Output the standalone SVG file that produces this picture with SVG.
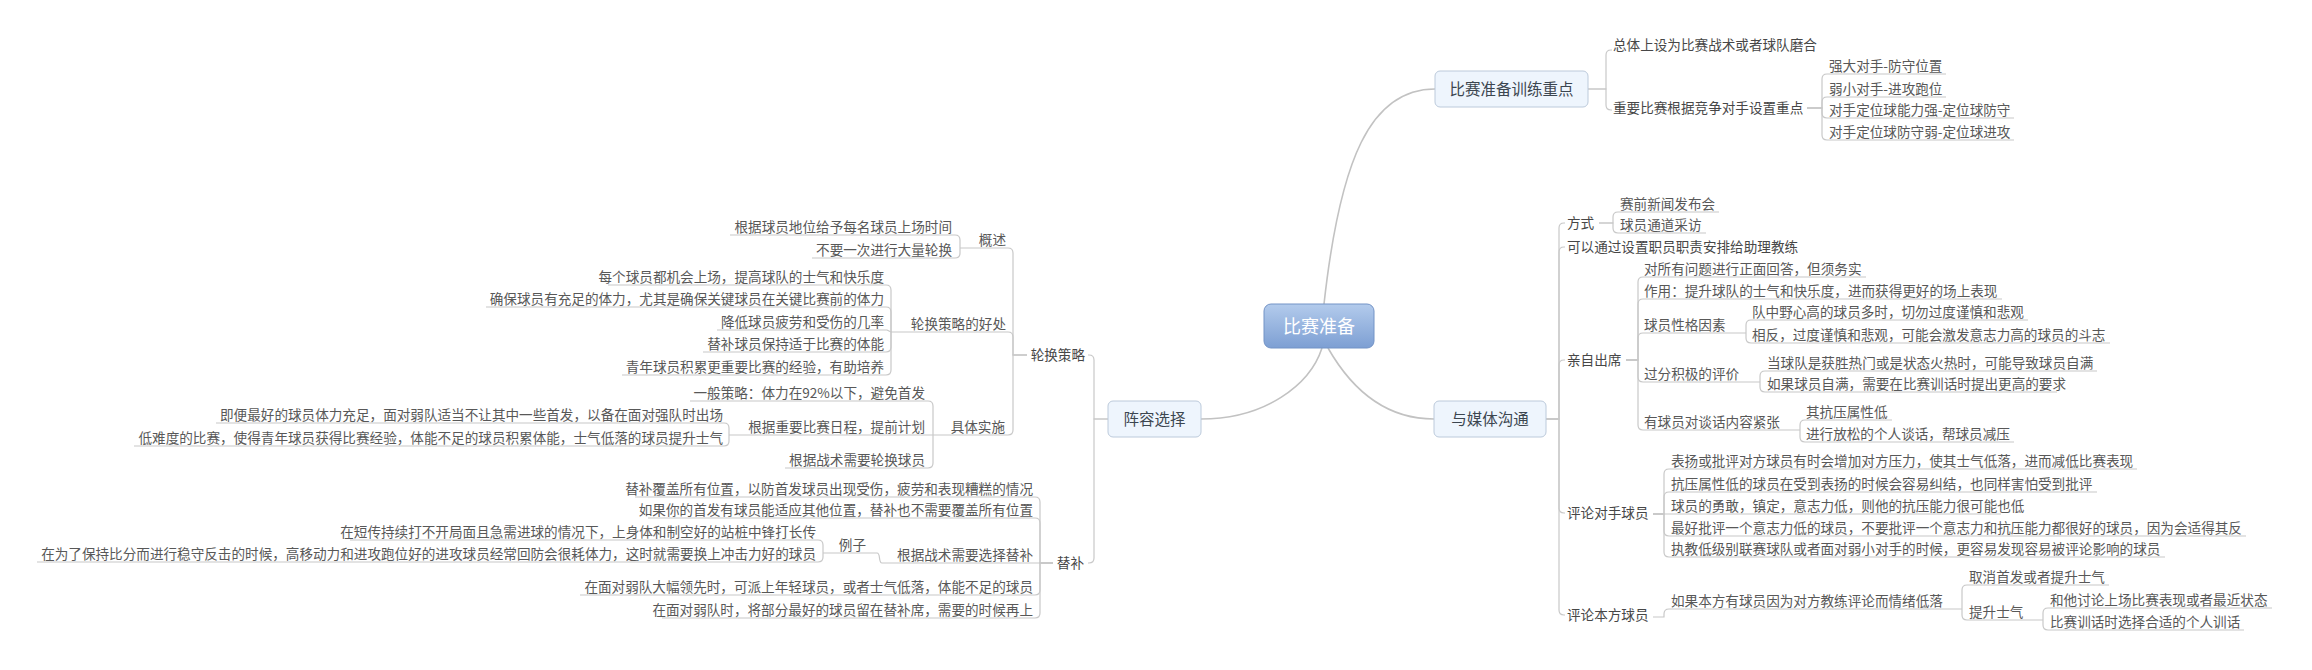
<svg xmlns="http://www.w3.org/2000/svg" width="2312" height="670" viewBox="0 0 2312 670">
<defs>
<linearGradient id="rootGrad" x1="0" y1="0" x2="0" y2="1">
<stop offset="0" stop-color="#b3cbec"/>
<stop offset="1" stop-color="#7d9fd3"/>
</linearGradient>
<style>
.t{font-family:"Noto Sans CJK SC","Liberation Sans",sans-serif;font-size:13.6px;fill:#585858}
.l2{fill:#474747}
.e{text-anchor:end}
.box{fill:#eef5fd;stroke:#bccadb;stroke-width:1}
.bt{font-family:"Noto Sans CJK SC","Liberation Sans",sans-serif;font-size:15.5px;fill:#3c4650;text-anchor:middle}
.root{fill:url(#rootGrad);stroke:#7393c6;stroke-width:1}
.rt{font-family:"Noto Sans CJK SC","Liberation Sans",sans-serif;font-size:18px;fill:#ffffff;text-anchor:middle}
.c{fill:none;stroke:#c8c8c8;stroke-width:1.2}
.m{fill:none;stroke:#c2c2c2;stroke-width:1.6}
</style>
</defs>
<rect width="2312" height="670" fill="#ffffff"/>

<g id="connectors">
<path class="m" d="M1324,304 C1340,160 1370,89 1435,89"/>
<path class="m" d="M1322,348 C1310,385 1265,419 1201,419"/>
<path class="m" d="M1328,348 C1352,390 1385,419 1434,419"/>

<path class="c" d="M1588,89 H1606 V55 Q1606,50 1611,50 H1612"/>
<path class="c" d="M1588,89 H1606 V105 Q1606,110 1611,110 H1612"/>
<path class="c" d="M1807,108 H1822 V79 Q1822,74 1827,74 H1946"/>
<path class="c" d="M1807,108 H1822 V102 Q1822,97 1827,97 H1946"/>
<path class="c" d="M1807,108 H1822 V113 Q1822,118 1827,118 H2014"/>
<path class="c" d="M1807,108 H1822 V135 Q1822,140 1827,140 H2014"/>

<path class="c" d="M1546,419 H1559 V228 Q1559,223 1564,223 H1565"/>
<path class="c" d="M1546,419 H1559 V252 Q1559,247 1564,247 H1565"/>
<path class="c" d="M1546,419 H1559 V365 Q1559,360 1564,360 H1565"/>
<path class="c" d="M1546,419 H1559 V508 Q1559,513 1564,513 H1565"/>
<path class="c" d="M1546,419 H1559 V610 Q1559,615 1564,615 H1565"/>

<path class="c" d="M1599,223 H1613 V217 Q1613,212 1618,212 H1719"/>
<path class="c" d="M1599,223 H1613 V228 Q1613,233 1618,233 H1706"/>

<path class="c" d="M1626,360 H1638 V282 Q1638,277 1643,277 H1866"/>
<path class="c" d="M1626,360 H1638 V304 Q1638,299 1643,299 H2002"/>
<path class="c" d="M1626,360 H1638 V338 Q1638,333 1643,333 H1746"/>
<path class="c" d="M1626,360 H1638 V377 Q1638,382 1643,382 H1760"/>
<path class="c" d="M1626,360 H1638 V425 Q1638,430 1643,430 H1800"/>
<path class="c" d="M1746,333 V325 Q1746,320 1751,320 H2028"/>
<path class="c" d="M1746,333 V338 Q1746,343 1751,343 H2110"/>
<path class="c" d="M1760,382 V376 Q1760,371 1765,371 H2097"/>
<path class="c" d="M1760,382 V387 Q1760,392 1765,392 H2057"/>
<path class="c" d="M1800,430 V425 Q1800,420 1805,420 H1892"/>
<path class="c" d="M1800,430 V437 Q1800,442 1805,442 H2014"/>

<path class="c" d="M1653,514 H1664 V474 Q1664,469 1669,469 H2137"/>
<path class="c" d="M1653,514 H1664 V497 Q1664,492 1669,492 H2097"/>
<path class="c" d="M1653,514 H2001"/>
<path class="c" d="M1653,514 H1664 V531 Q1664,536 1669,536 H2246"/>
<path class="c" d="M1653,514 H1664 V552 Q1664,557 1669,557 H2165"/>

<path class="c" d="M1653,617 H1664 V614 Q1664,609 1669,609 H1962"/>
<path class="c" d="M1962,609 V590 Q1962,585 1967,585 H2109"/>
<path class="c" d="M1962,609 V615 Q1962,620 1967,620 H2043"/>
<path class="c" d="M2043,620 V613 Q2043,608 2048,608 H2272"/>
<path class="c" d="M2043,620 V625 Q2043,630 2048,630 H2244"/>

<path class="c" d="M1108,419 H1094 V360 Q1094,355 1089,355 H1088"/>
<path class="c" d="M1108,419 H1094 V558 Q1094,563 1089,563 H1088"/>

<path class="c" d="M1027,355 H1013 V253 Q1013,248 1008,248 H960"/>
<path class="c" d="M1027,355 H1013 V337 Q1013,332 1008,332 H891"/>
<path class="c" d="M1027,355 H1013 V430 Q1013,435 1008,435 H933"/>
<path class="c" d="M960,248 V240 Q960,235 955,235 H730"/>
<path class="c" d="M960,248 V253 Q960,258 955,258 H812"/>
<path class="c" d="M891,332 V290 Q891,285 886,285 H608"/>
<path class="c" d="M891,332 V312 Q891,307 886,307 H486"/>
<path class="c" d="M891,332 L887,330 H717"/>
<path class="c" d="M891,332 V347 Q891,352 886,352 H703"/>
<path class="c" d="M891,332 V370 Q891,375 886,375 H622"/>
<path class="c" d="M933,435 V406 Q933,401 928,401 H690"/>
<path class="c" d="M933,435 H729"/>
<path class="c" d="M933,435 V463 Q933,468 928,468 H785"/>
<path class="c" d="M729,435 V428 Q729,423 724,423 H216"/>
<path class="c" d="M729,435 V441 Q729,446 724,446 H134"/>

<path class="c" d="M1053,563 H1040 V502 Q1040,497 1035,497 H635"/>
<path class="c" d="M1053,563 H1040 V523 Q1040,518 1035,518 H648"/>
<path class="c" d="M1053,563 H882"/>
<path class="c" d="M1053,563 H1040 V590 Q1040,595 1035,595 H580"/>
<path class="c" d="M1053,563 H1040 V613 Q1040,618 1035,618 H662"/>
<path class="c" d="M882,563 C878,563 881,553 877,553 H823"/>
<path class="c" d="M823,553 V545 Q823,540 818,540 H350"/>
<path class="c" d="M823,553 V557 Q823,562 818,562 H37"/>
</g>

<g id="root-node">
<rect class="root" x="1264" y="304" width="110" height="44" rx="7"/>
<text class="rt" x="1319" y="332.5">比赛准备</text>
</g>

<g id="n-xunlian">
<rect class="box" x="1435" y="71" width="153" height="36" rx="5"/>
<text class="bt" x="1511.5" y="94.5">比赛准备训练重点</text>
</g>
<g id="n-xunlian-1"><text class="t l2" x="1613" y="50">总体上设为比赛战术或者球队磨合</text></g>
<g id="n-xunlian-2"><text class="t l2" x="1613" y="113">重要比赛根据竞争对手设置重点</text></g>
<g id="n-xunlian-2-1"><text class="t" x="1829" y="71">强大对手-防守位置</text></g>
<g id="n-xunlian-2-2"><text class="t" x="1829" y="94">弱小对手-进攻跑位</text></g>
<g id="n-xunlian-2-3"><text class="t" x="1829" y="115">对手定位球能力强-定位球防守</text></g>
<g id="n-xunlian-2-4"><text class="t" x="1829" y="137">对手定位球防守弱-定位球进攻</text></g>

<g id="n-meiti">
<rect class="box" x="1434" y="401" width="112" height="36" rx="5"/>
<text class="bt" x="1490" y="424.5">与媒体沟通</text>
</g>
<g id="n-fangshi"><text class="t l2" x="1567" y="228">方式</text></g>
<g id="n-fangshi-1"><text class="t" x="1620" y="209">赛前新闻发布会</text></g>
<g id="n-fangshi-2"><text class="t" x="1620" y="230">球员通道采访</text></g>
<g id="n-zhiyuan"><text class="t l2" x="1567" y="252">可以通过设置职员职责安排给助理教练</text></g>
<g id="n-chuxi"><text class="t l2" x="1567" y="365">亲自出席</text></g>
<g id="n-chuxi-1"><text class="t" x="1644" y="274">对所有问题进行正面回答，但须务实</text></g>
<g id="n-chuxi-2"><text class="t" x="1644" y="296">作用：提升球队的士气和快乐度，进而获得更好的场上表现</text></g>
<g id="n-chuxi-3"><text class="t" x="1644" y="330">球员性格因素</text></g>
<g id="n-chuxi-3-1"><text class="t" x="1752" y="317">队中野心高的球员多时，切勿过度谨慎和悲观</text></g>
<g id="n-chuxi-3-2"><text class="t" x="1752" y="340">相反，过度谨慎和悲观，可能会激发意志力高的球员的斗志</text></g>
<g id="n-chuxi-4"><text class="t" x="1644" y="379">过分积极的评价</text></g>
<g id="n-chuxi-4-1"><text class="t" x="1767" y="368">当球队是获胜热门或是状态火热时，可能导致球员自满</text></g>
<g id="n-chuxi-4-2"><text class="t" x="1767" y="389">如果球员自满，需要在比赛训话时提出更高的要求</text></g>
<g id="n-chuxi-5"><text class="t" x="1644" y="427">有球员对谈话内容紧张</text></g>
<g id="n-chuxi-5-1"><text class="t" x="1806" y="417">其抗压属性低</text></g>
<g id="n-chuxi-5-2"><text class="t" x="1806" y="439">进行放松的个人谈话，帮球员减压</text></g>
<g id="n-duishou"><text class="t l2" x="1567" y="518">评论对手球员</text></g>
<g id="n-duishou-1"><text class="t" x="1671" y="466">表扬或批评对方球员有时会增加对方压力，使其士气低落，进而减低比赛表现</text></g>
<g id="n-duishou-2"><text class="t" x="1671" y="489">抗压属性低的球员在受到表扬的时候会容易纠结，也同样害怕受到批评</text></g>
<g id="n-duishou-3"><text class="t" x="1671" y="511">球员的勇敢，镇定，意志力低，则他的抗压能力很可能也低</text></g>
<g id="n-duishou-4"><text class="t" x="1671" y="533">最好批评一个意志力低的球员，不要批评一个意志力和抗压能力都很好的球员，因为会适得其反</text></g>
<g id="n-duishou-5"><text class="t" x="1671" y="554">执教低级别联赛球队或者面对弱小对手的时候，更容易发现容易被评论影响的球员</text></g>
<g id="n-benfang"><text class="t l2" x="1567" y="620">评论本方球员</text></g>
<g id="n-benfang-1"><text class="t" x="1671" y="606">如果本方有球员因为对方教练评论而情绪低落</text></g>
<g id="n-benfang-1-1"><text class="t" x="1969" y="582">取消首发或者提升士气</text></g>
<g id="n-benfang-1-2"><text class="t" x="1969" y="617">提升士气</text></g>
<g id="n-benfang-1-2-1"><text class="t" x="2050" y="605">和他讨论上场比赛表现或者最近状态</text></g>
<g id="n-benfang-1-2-2"><text class="t" x="2050" y="627">比赛训话时选择合适的个人训话</text></g>

<g id="n-zhenrong">
<rect class="box" x="1108" y="401" width="93" height="36" rx="5"/>
<text class="bt" x="1154.5" y="424.5">阵容选择</text>
</g>
<g id="n-lunhuan"><text class="t l2 e" x="1085" y="360">轮换策略</text></g>
<g id="n-gaishu"><text class="t e" x="1006" y="245">概述</text></g>
<g id="n-gaishu-1"><text class="t e" x="952" y="232">根据球员地位给予每名球员上场时间</text></g>
<g id="n-gaishu-2"><text class="t e" x="952" y="255">不要一次进行大量轮换</text></g>
<g id="n-haochu"><text class="t e" x="1006" y="329">轮换策略的好处</text></g>
<g id="n-haochu-1"><text class="t e" x="884" y="282">每个球员都机会上场，提高球队的士气和快乐度</text></g>
<g id="n-haochu-2"><text class="t e" x="884" y="304">确保球员有充足的体力，尤其是确保关键球员在关键比赛前的体力</text></g>
<g id="n-haochu-3"><text class="t e" x="884" y="327">降低球员疲劳和受伤的几率</text></g>
<g id="n-haochu-4"><text class="t e" x="884" y="349">替补球员保持适于比赛的体能</text></g>
<g id="n-haochu-5"><text class="t e" x="884" y="372">青年球员积累更重要比赛的经验，有助培养</text></g>
<g id="n-shishi"><text class="t e" x="1005" y="432">具体实施</text></g>
<g id="n-shishi-1"><text class="t e" x="925" y="398">一般策略：体力在92%以下，避免首发</text></g>
<g id="n-shishi-2"><text class="t e" x="925" y="432">根据重要比赛日程，提前计划</text></g>
<g id="n-shishi-2-1"><text class="t e" x="723" y="420">即便最好的球员体力充足，面对弱队适当不让其中一些首发，以备在面对强队时出场</text></g>
<g id="n-shishi-2-2"><text class="t e" x="723" y="443">低难度的比赛，使得青年球员获得比赛经验，体能不足的球员积累体能，士气低落的球员提升士气</text></g>
<g id="n-shishi-3"><text class="t e" x="925" y="465">根据战术需要轮换球员</text></g>
<g id="n-tibu"><text class="t l2 e" x="1084" y="568">替补</text></g>
<g id="n-tibu-1"><text class="t e" x="1033" y="494">替补覆盖所有位置，以防首发球员出现受伤，疲劳和表现糟糕的情况</text></g>
<g id="n-tibu-2"><text class="t e" x="1033" y="515">如果你的首发有球员能适应其他位置，替补也不需要覆盖所有位置</text></g>
<g id="n-tibu-3"><text class="t e" x="1033" y="560">根据战术需要选择替补</text></g>
<g id="n-lizi"><text class="t e" x="866" y="550">例子</text></g>
<g id="n-lizi-1"><text class="t e" x="816" y="537">在短传持续打不开局面且急需进球的情况下，上身体和制空好的站桩中锋打长传</text></g>
<g id="n-lizi-2"><text class="t e" x="816" y="559">在为了保持比分而进行稳守反击的时候，高移动力和进攻跑位好的进攻球员经常回防会很耗体力，这时就需要换上冲击力好的球员</text></g>
<g id="n-tibu-4"><text class="t e" x="1033" y="592">在面对弱队大幅领先时，可派上年轻球员，或者士气低落，体能不足的球员</text></g>
<g id="n-tibu-5"><text class="t e" x="1033" y="615">在面对弱队时，将部分最好的球员留在替补席，需要的时候再上</text></g>
</svg>
